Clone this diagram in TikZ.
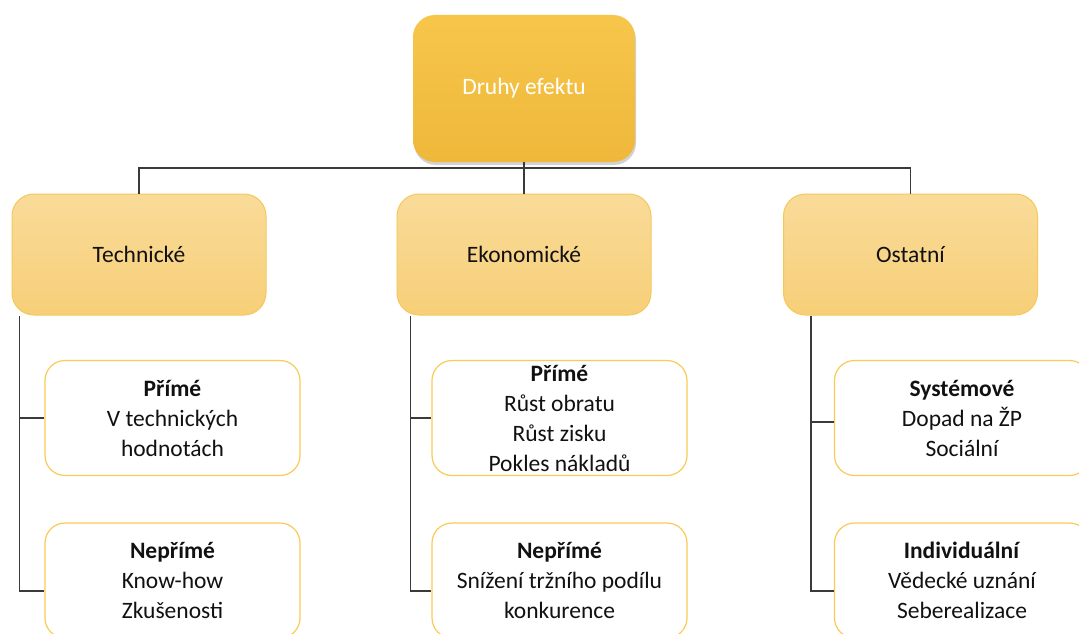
\documentclass[tikz,border=0pt]{standalone}
\usepackage{fontspec}
\setmainfont{Carlito}
\usetikzlibrary{shadows,calc}
\definecolor{topA}{HTML}{F6C64B}
\definecolor{topB}{HTML}{EFB83B}
\definecolor{midA}{HTML}{F9DB99}
\definecolor{midB}{HTML}{F7CF78}
\definecolor{midE}{HTML}{F6C85C}
\definecolor{lowE}{HTML}{FACB55}
\definecolor{lineC}{HTML}{3A3A3A}
\definecolor{txt}{HTML}{111111}
\tikzset{
  topbox/.style={rounded corners=22pt, minimum width=222pt, minimum height=147pt,
    top color=topA, bottom color=topB, draw=none, text=white,
    font=\fontsize{23.5}{30}\selectfont,
    drop shadow={opacity=0.35, shadow xshift=1pt, shadow yshift=-3pt}},
  catbox/.style={rounded corners=22pt, minimum width=254pt, minimum height=121pt,
    top color=midA, bottom color=midB, draw=midE, line width=1pt, text=txt,
    font=\fontsize{23.5}{30}\selectfont},
  itembox/.style={rounded corners=20pt, minimum width=255pt, minimum height=115pt,
    fill=white, draw=lowE, line width=1.2pt, text=txt, align=center,
    font=\fontsize{23.5}{30}\selectfont},
  conn/.style={draw=lineC, line width=1.3pt}
}
\begin{document}
\begin{tikzpicture}[x=1pt,y=-1pt]
\clip (0,0) rectangle (1079,634);
\fill[white] (0,0) rectangle (1079,634);

% top
\node[topbox] (top) at (524,88.5) {Druhy efektu};

% categories
\node[catbox] (tech) at (139,254.5) {Technické};
\node[catbox] (eko) at (524,254.5) {Ekonomické};
\node[catbox] (ost) at (910.5,254.5) {Ostatní};

% items
\node[itembox] (t1) at (172.5,418) {\textbf{Přímé}\\V technických\\hodnotách};
\node[itembox] (t2) at (172.5,580.5) {\textbf{Nepřímé}\\Know-how\\Zkušenosti};
\node[itembox] (e1) at (559.5,418) {\textbf{Přímé}\\Růst obratu\\Růst zisku\\Pokles nákladů};
\node[itembox] (e2) at (559.5,580.5) {\textbf{Nepřímé}\\Snížení tržního podílu\\konkurence};
\node[itembox] (o1) at (962,418) {\textbf{Systémové}\\Dopad na ŽP\\Sociální};
\node[itembox] (o2) at (962,580.5) {\textbf{Individuální}\\Vědecké uznání\\Seberealizace};

% connectors top -> categories
\coordinate (bus) at (524,168);
\draw[conn] (top.south) -- (eko.north);
\draw[conn] (tech.north) |- (bus) -| (ost.north);

% category -> items
\draw[conn] ([xshift=8pt]tech.south west) |- ([yshift=-10.5pt]t2.west);
\draw[conn] ([xshift=8pt]tech.south west |- t1.west) -- (t1.west);
\draw[conn] ([xshift=14pt]eko.south west) |- ([yshift=-10.5pt]e2.west);
\draw[conn] ([xshift=14pt]eko.south west |- e1.west) -- (e1.west);
\draw[conn] ([xshift=28pt]ost.south west) |- ([yshift=-10.5pt]o2.west);
\draw[conn] ([xshift=28pt,yshift=-4pt]ost.south west |- o1.west) -- ([yshift=-4pt]o1.west);
\end{tikzpicture}
\end{document}
